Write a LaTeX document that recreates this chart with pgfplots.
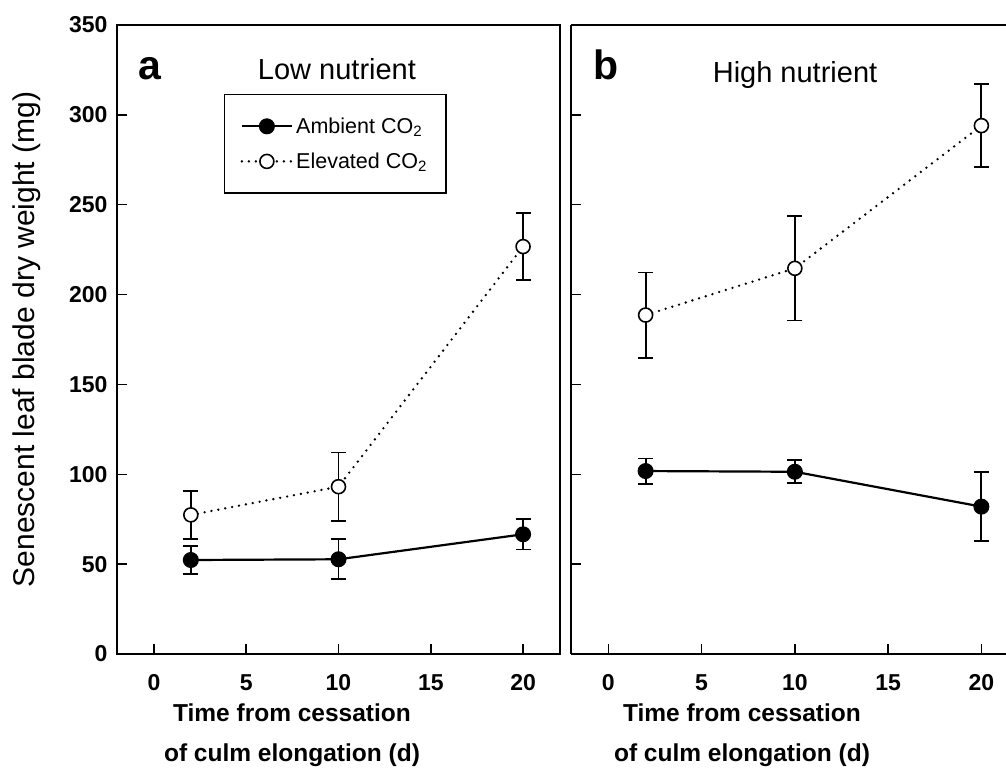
\documentclass[border=0pt]{standalone}
\usepackage{fontspec}
\setmainfont{Liberation Sans}
\usepackage{pgfplots}
\usepackage{pgfplotstable}
\pgfplotsset{compat=1.18}

% low nutrient
\pgfplotstableread{
x  y      e
2  52.3   7.6
10 52.7   11.1
20 66.6   8.4
}\lowamb
\pgfplotstableread{
x  y      e
2  77.4   13.3
10 93.1   19.0
20 226.7  18.8
}\lowelev
% high nutrient
\pgfplotstableread{
x  y      e
2  101.8  7.0
10 101.4  6.4
20 82.0   19.2
}\highamb
\pgfplotstableread{
x  y      e
2  188.6  23.7
10 214.6  29.0
20 294.0  23.0
}\highelev

\pgfplotsset{
  panel/.style={
    scale only axis, height=629pt,
    ymin=0, ymax=350, xmin=-2,
    xtick={0,5,10,15,20}, ytick={0,50,...,350},
    xtick pos=bottom, ytick pos=left, tick align=inside,
    major tick length=10pt, tick style={line width=1.5pt, black},
    axis line style={line width=1.8pt},
    ticklabel style={font=\fontsize{23}{27}\selectfont\bfseries},
    /pgf/number format/assume math mode=true,
    xticklabel style={yshift=-17pt},
    yticklabel style={xshift=-6pt},
    xlabel style={font=\fontsize{24.5}{40}\selectfont\bfseries, align=center, anchor=north},
    clip=false,
    legend image code/.code={
      \draw[mark repeat=2, mark phase=2, #1] plot coordinates {(0pt,0pt) (25pt,0pt) (50pt,0pt)};},
  },
  amb/.style={black, line width=2.2pt, mark=*, mark size=7.5pt,
    mark options={solid, fill=black, line width=1pt},
    error bars/.cd, y dir=both, y explicit, error mark=|,
    error bar style={line width=1.8pt, solid},
    error mark options={line width=1.8pt, mark size=7.5pt, solid}},
  elev/.style={black, line width=2.6pt, line cap=round, dash pattern=on 0pt off 7pt,
    mark=*, mark size=7pt,
    mark options={solid, fill=white, draw=black, line width=1.6pt},
    error bars/.cd, y dir=both, y explicit, error mark=|,
    error bar style={line width=1.8pt, solid, line cap=butt},
    error mark options={line width=1.8pt, mark size=7.5pt, solid, line cap=butt}},
}

\begin{document}
\begin{tikzpicture}
\useasboundingbox (-117pt,-129pt) rectangle (889pt,654pt);

\begin{axis}[panel, at={(0pt,0pt)}, anchor=south west,
    width=443pt, xmax=22,
    ylabel={Senescent leaf blade dry weight (mg)},
    ylabel style={font=\fontsize{30}{34}\selectfont, at={(axis description cs:-0.203,0.5)}, anchor=center},
    xlabel={Time from cessation\\of culm elongation (d)},
    xlabel style={at={(axis description cs:0.395,-0.073)}},
    legend style={at={(rel axis cs:0.2415,0.890)}, anchor=north west,
      draw=black, line width=1.2pt, inner xsep=16pt, inner ysep=20pt,
      font=\fontsize{21.5}{25}\selectfont, row sep=12pt,
      nodes={inner sep=3pt}},
    legend cell align=left]
\addplot[amb] table[x=x, y=y, y error=e] {\lowamb};
\addlegendentry{Ambient CO\textsubscript{2}}
\addplot[elev] table[x=x, y=y, y error=e] {\lowelev};
\addlegendentry{Elevated CO\textsubscript{2}}
\node[font=\fontsize{41}{45}\selectfont\bfseries, anchor=base] at (rel axis cs:0.0745,0.913) {a};
\node[font=\fontsize{29}{33}\selectfont, anchor=base] at (rel axis cs:0.4966,0.9126) {Low nutrient};
\end{axis}

\begin{axis}[panel, at={(454pt,0pt)}, anchor=south west,
    width=435pt, xmax=21.32,
    axis y line*=left,
    yticklabels={},
    xlabel={Time from cessation\\of culm elongation (d)},
    xlabel style={at={(axis description cs:0.393,-0.073)}}]
\addplot[amb] table[x=x, y=y, y error=e] {\highamb};
\addplot[elev] table[x=x, y=y, y error=e] {\highelev};
\node[font=\fontsize{41}{45}\selectfont\bfseries, anchor=base] at (rel axis cs:0.0805,0.9126) {b};
\node[font=\fontsize{29}{33}\selectfont, anchor=base] at (rel axis cs:0.515,0.909) {High nutrient};
\end{axis}
\end{tikzpicture}
\end{document}
